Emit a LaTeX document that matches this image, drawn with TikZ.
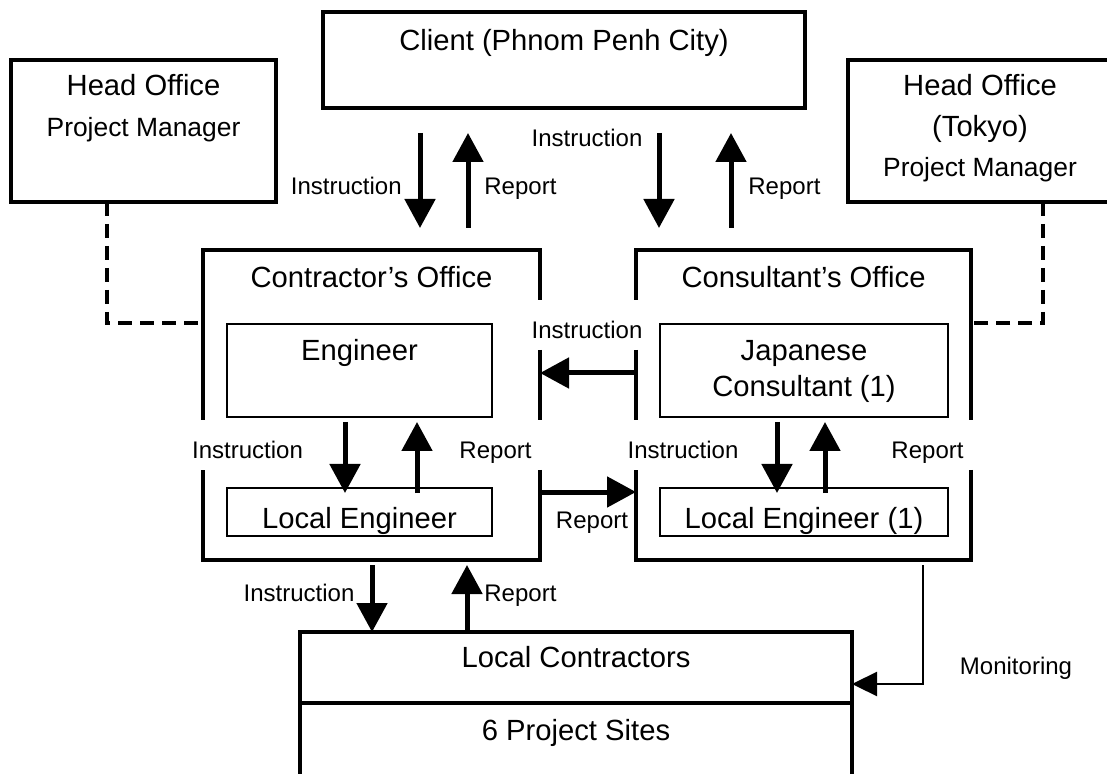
\documentclass[tikz,border=0pt]{standalone}
\usepackage{fontspec}
\setmainfont{Liberation Sans}
\usetikzlibrary{arrows.meta}

\tikzset{
  box/.style={draw, line width=2pt, inner sep=0pt, outer sep=0pt, anchor=north west},
  officebox/.style={box, draw=none},
  innerbox/.style={box, line width=1pt},
  bigtext/.style={font=\fontsize{14.6}{17}\selectfont, anchor=base, inner sep=0pt},
  midtext/.style={font=\fontsize{13.2}{16}\selectfont, anchor=base, inner sep=0pt},
  lbl/.style={font=\fontsize{12}{14}\selectfont, anchor=base, inner sep=0pt},
  flow/.style={line width=2.5pt, -{Triangle[width=15pt,length=14.5pt]}},
  monitor/.style={line width=1.2pt, -{Triangle[width=12pt,length=12.5pt]}},
  link/.style={line width=1.6pt, dash pattern=on 7pt off 4pt},
  outline/.style={line width=2pt}
}

\begin{document}
\begin{tikzpicture}[x=0.5pt,y=-0.5pt]

        \useasboundingbox (0,0) rectangle (1107,774);
        \clip (0,0) rectangle (1107,774);

        %%% TOP ROW

        % Head office (left)
        \node[box, minimum width=132.5pt, minimum height=71pt] (hoL) at (11,60) {};
        \node[bigtext] (hoLa) at (hoL.center |- 0,95.5) {Head Office};
        \node[midtext] (hoLb) at (hoL.center |- 0,136.5) {Project Manager};

        % Client
        \node[box, minimum width=241pt, minimum height=48pt] (client) at (323,12) {};
        \node[bigtext] (clientt) at (client.center |- 0,50.5) {Client (Phnom Penh City)};

        % Head office (right)
        \node[box, minimum width=132pt, minimum height=71pt] (hoR) at (848,60) {};
        \node[bigtext] (hoRa) at (hoR.center |- 0,95.5) {Head Office};
        \node[bigtext] (hoRb) at (hoR.center |- 0,137) {(Tokyo)};
        \node[midtext] (hoRc) at (hoR.center |- 0,176.5) {Project Manager};

        %%% OFFICES

        \node[officebox, minimum width=168.5pt, minimum height=155pt] (contr) at (203,250) {};
        \node[bigtext] (contrt) at (contr.center |- 0,287.5) {Contractor’s Office};
        \node[officebox, minimum width=167.5pt, minimum height=155pt] (consul) at (636,250) {};
        \node[bigtext] (consult) at (consul.center |- 0,287.5) {Consultant’s Office};

        % Gaps in the office walls
        \coordinate (ga) at (0,300);
        \coordinate (gb) at (0,350);
        \coordinate (gc) at (0,420);
        \coordinate (gd) at (0,470);

        \draw[outline] (contr.west |- gc) -- (contr.north west) -- (contr.north east) -- (contr.east |- ga);
        \draw[outline] (contr.east |- gb) -- (contr.east |- gc);
        \draw[outline] (contr.east |- gd) -- (contr.south east) -- (contr.south west) -- (contr.west |- gd);

        \draw[outline] (consul.west |- ga) -- (consul.north west) -- (consul.north east) -- (consul.east |- gc);
        \draw[outline] (consul.west |- gb) -- (consul.west |- gc);
        \draw[outline] (consul.east |- gd) -- (consul.south east) -- (consul.south west) -- (consul.west |- gd);

        % Inner boxes
        \node[innerbox, minimum width=132.5pt, minimum height=46.5pt] (eng) at (227,324) {};
        \node[bigtext] (engt) at (eng.center |- 0,360.5) {Engineer};
        \node[innerbox, minimum width=132.5pt, minimum height=24pt] (leng) at (227,488) {};
        \node[bigtext] (lengt) at (leng.center |- 0,528) {Local Engineer};

        \node[innerbox, minimum width=144pt, minimum height=46.5pt] (jpc) at (660,324) {};
        \node[bigtext] (jpca) at (jpc.center |- 0,360.5) {Japanese};
        \node[bigtext] (jpcb) at (jpc.center |- 0,397) {Consultant (1)};
        \node[innerbox, minimum width=144pt, minimum height=24pt] (leng1) at (660,488) {};
        \node[bigtext] (leng1t) at (leng1.center |- 0,528) {Local Engineer (1)};

        %%% SITES

        \node[box, minimum width=276pt, minimum height=35.5pt] (lcon) at (300,632) {};
        \node[bigtext] (lcont) at (lcon.center |- 0,667) {Local Contractors};
        \node[box, minimum width=276pt, minimum height=36.5pt] (psite) at (300,703) {};
        \node[bigtext] (psitet) at (psite.center |- 0,740) {6 Project Sites};

        %%% ARROWS

        % Client <-> offices
        \coordinate (cx1) at (420,0);
        \coordinate (cx2) at (468,0);
        \coordinate (cx3) at (659,0);
        \coordinate (cx4) at (731,0);
        \draw[flow, shorten <=12.5pt, shorten >=11pt] (client.south -| cx1) -- (contr.north -| cx1);
        \draw[flow, shorten <=11pt, shorten >=12.5pt] (contr.north -| cx2) -- (client.south -| cx2);
        \draw[flow, shorten <=12.5pt, shorten >=11pt] (client.south -| cx3) -- (consul.north -| cx3);
        \draw[flow, shorten <=11pt, shorten >=12.5pt] (consul.north -| cx4) -- (client.south -| cx4);
        \node[lbl, anchor=base east] (l1) at (402,194.6) {Instruction};
        \node[lbl, anchor=base west] (l2) at (484,194.6) {Report};
        \node[lbl] (l3) at (587,146.6) {Instruction};
        \node[lbl, anchor=base west] (l4) at (748,194.6) {Report};

        % Between offices
        \coordinate (iy) at (0,373);
        \coordinate (ry) at (0,492);
        \draw[flow] (consul.west |- iy) -- (contr.east |- iy);
        \draw[flow] (contr.east |- ry) -- (consul.west |- ry);
        \node[lbl] (l5) at (587,338.6) {Instruction};
        \node[lbl] (l6) at (592,528.6) {Report};

        % Inside offices
        \coordinate (ex1) at (345,0);
        \coordinate (ex2) at (417,0);
        \coordinate (jx1) at (777,0);
        \coordinate (jx2) at (825,0);
        \draw[flow, shorten <=2.5pt, shorten >=-2.5pt] (eng.south -| ex1) -- (leng.north -| ex1);
        \draw[flow, shorten <=-2.5pt, shorten >=2.5pt] (leng.north -| ex2) -- (eng.south -| ex2);
        \draw[flow, shorten <=2.5pt, shorten >=-2.5pt] (jpc.south -| jx1) -- (leng1.north -| jx1);
        \draw[flow, shorten <=-2.5pt, shorten >=2.5pt] (leng1.north -| jx2) -- (jpc.south -| jx2);
        \node[lbl] (l7) at (247.5,458.6) {Instruction};
        \node[lbl] (l8) at (495.5,458.6) {Report};
        \node[lbl] (l9) at (683,458.6) {Instruction};
        \node[lbl] (l10) at (927.5,458.6) {Report};

        % Contractor <-> sites
        \coordinate (bx1) at (372,0);
        \coordinate (bx2) at (467,0);
        \draw[flow, shorten <=2.5pt] (contr.south -| bx1) -- (lcon.north -| bx1);
        \draw[flow, shorten >=2.5pt] (lcon.north -| bx2) -- (contr.south -| bx2);
        \node[lbl] (l11) at (299,601.6) {Instruction};
        \node[lbl, anchor=base west] (l12) at (484,601.6) {Report};

        % Monitoring
        \coordinate (mx) at (923,0);
        \coordinate (my) at (0,684);
        \draw[monitor, shorten <=2.5pt] (consul.south -| mx) |- (lcon.east |- my);
        \node[lbl] (l13) at (1016,674.6) {Monitoring};

        % Dashed links to head offices
        \coordinate (dxL) at (107,0);
        \coordinate (dxR) at (1043,0);
        \coordinate (dy) at (0,323);
        \draw[link] (hoL.south -| dxL) |- (contr.west |- dy);
        \draw[link] (hoR.south -| dxR) |- (consul.east |- dy);

\end{tikzpicture}
\end{document}
